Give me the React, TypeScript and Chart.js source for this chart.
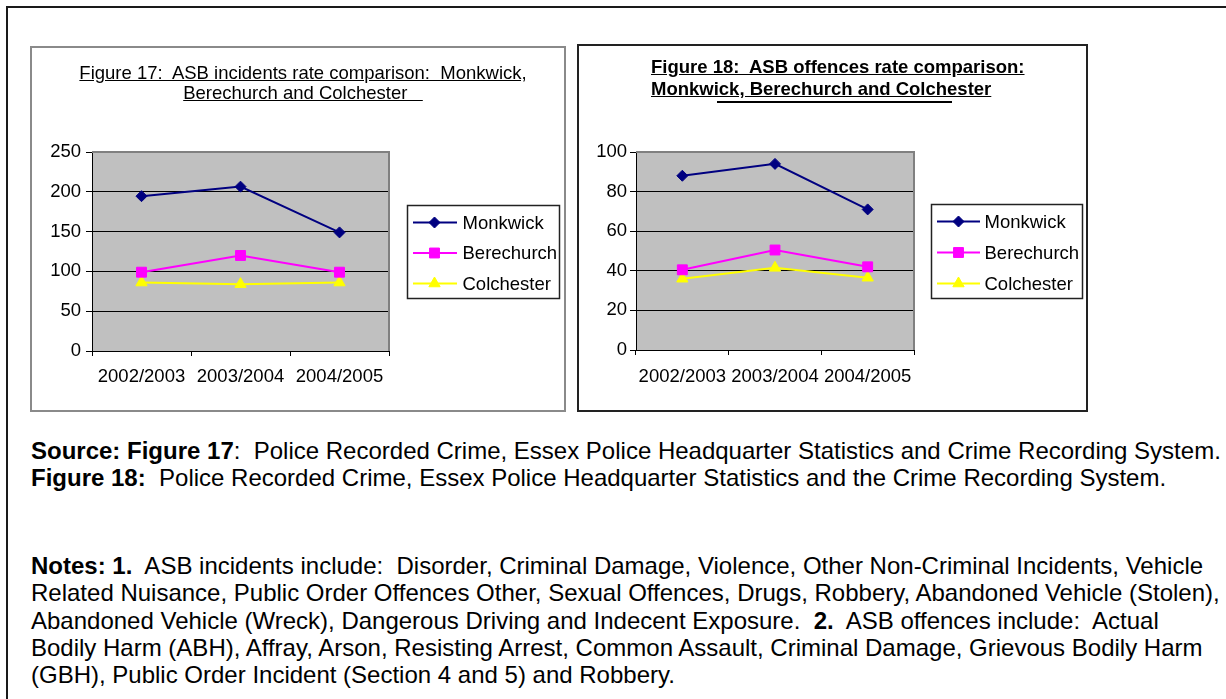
import React, { useEffect, useRef } from 'react';
import { Chart, registerables } from 'chart.js';

Chart.register(...registerables);

// ---------- data ----------
const categories = ['2002/2003', '2003/2004', '2004/2005'];
const seriesNames = ['Monkwick', 'Berechurch', 'Colchester'];

const fig17Monkwick = [194.5, 206.5, 149];
const fig17Berechurch = [99, 120, 99];
const fig17Colchester = [86, 84, 86];
const fig17YTicks = [0, 50, 100, 150, 200, 250];

const fig18Monkwick = [88, 94, 71];
const fig18Berechurch = [40.5, 50.5, 42];
const fig18Colchester = [36, 41.5, 36.5];
const fig18YTicks = [0, 20, 40, 60, 80, 100];

const fig17Title = ['Figure 17:  ASB incidents rate comparison:  Monkwick,', 'Berechurch and Colchester   '];
const fig18Title = ['Figure 18:  ASB offences rate comparison:', 'Monkwick, Berechurch and Colchester'];

// ---------- styles ----------
const FONT = "'Liberation Sans', Arial, Helvetica, sans-serif";
const seriesColors = ['#000080', '#FF00FF', '#FFFF00'];
const seriesMarkers = ['rectRot', 'rect', 'triangle'];
const seriesRadii = [5.5, 7, 6.5];

type Geo = {
  left: number; top: number; width: number; height: number;
  yWidth: number; padTop: number; padRight: number; padBottom: number;
  xPad: number; yPad: number;
  legGap: number; legW: number; legH: number; lineStart: number; lineEnd: number; markX: number; textX: number;
};

function drawMarker(ctx: CanvasRenderingContext2D, style: string, x: number, y: number, r: number, color: string) {
  ctx.beginPath();
  if (style === 'rectRot') {
    ctx.moveTo(x - r, y); ctx.lineTo(x, y - r); ctx.lineTo(x + r, y); ctx.lineTo(x, y + r);
  } else if (style === 'rect') {
    const s = r * Math.SQRT1_2;
    ctx.rect(x - s, y - s, 2 * s, 2 * s);
  } else {
    ctx.moveTo(x, y - r); ctx.lineTo(x + r * 0.866, y + r * 0.5); ctx.lineTo(x - r * 0.866, y + r * 0.5);
  }
  ctx.closePath();
  ctx.fillStyle = color; ctx.fill();
  ctx.lineWidth = 1; ctx.strokeStyle = color; ctx.stroke();
}

function makeConfig(series: number[][], yTicks: number[], g: Geo): any {
  const max = yTicks[yTicks.length - 1];
  const plotBg = {
    id: 'plotBg',
    beforeDraw(chart: any) {
      const { ctx, chartArea: a } = chart;
      ctx.save();
      ctx.fillStyle = '#C0C0C0';
      ctx.fillRect(a.left, a.top, a.right - a.left, a.bottom - a.top);
      ctx.restore();
    },
    beforeDatasetsDraw(chart: any) {
      const { ctx, chartArea: a } = chart;
      ctx.save();
      ctx.strokeStyle = '#808080';
      ctx.lineWidth = 2;
      ctx.beginPath();
      ctx.moveTo(a.left, a.top);
      ctx.lineTo(a.right, a.top);
      ctx.lineTo(a.right, a.bottom);
      ctx.stroke();
      ctx.restore();
    },
  };
  const boxLegend = {
    id: 'boxLegend',
    afterDraw(chart: any) {
      const { ctx, chartArea: a } = chart;
      const bx = Math.round(a.right + g.legGap);
      const by = Math.round((a.top + a.bottom) / 2 - g.legH / 2);
      ctx.save();
      ctx.fillStyle = '#FFFFFF';
      ctx.fillRect(bx, by, g.legW, g.legH);
      ctx.strokeStyle = '#222';
      ctx.lineWidth = 1.5;
      ctx.strokeRect(bx + 0.5, by + 0.5, g.legW, g.legH);
      const rowH = (g.legH - 32) / 2;
      chart.data.datasets.forEach((ds: any, i: number) => {
        const y = by + 17.5 + i * rowH;
        ctx.strokeStyle = ds.borderColor;
        ctx.lineWidth = 2;
        ctx.beginPath();
        ctx.moveTo(bx + g.lineStart, y);
        ctx.lineTo(bx + g.lineEnd, y);
        ctx.stroke();
        drawMarker(ctx, ds.pointStyle, bx + g.markX, y, ds.pointRadius, ds.borderColor);
        ctx.fillStyle = '#000';
        ctx.font = `18.5px ${FONT}`;
        ctx.textBaseline = 'middle';
        ctx.textAlign = 'left';
        ctx.fillText(ds.label, bx + g.textX, y + 1);
      });
      ctx.restore();
    },
  };
  return {
    type: 'line',
    data: {
      labels: categories,
      datasets: seriesNames.map((name, i) => ({
        label: name,
        data: series[i],
        borderColor: seriesColors[i],
        backgroundColor: seriesColors[i],
        borderWidth: 2,
        pointStyle: seriesMarkers[i],
        pointRadius: seriesRadii[i],
        pointBorderWidth: 1,
        pointBackgroundColor: seriesColors[i],
        pointBorderColor: seriesColors[i],
        tension: 0,
        fill: false,
      })),
    },
    options: {
      animation: false,
      responsive: false,
      devicePixelRatio: 1,
      events: [],
      layout: { padding: { top: g.padTop, right: g.padRight, bottom: g.padBottom, left: 0 } },
      plugins: { legend: { display: false }, title: { display: false }, tooltip: { enabled: false } },
      scales: {
        x: {
          offset: true,
          grid: { offset: true, drawOnChartArea: false, drawTicks: true, tickLength: 5, color: '#000', lineWidth: 1 },
          border: { color: '#000', width: 1 },
          ticks: { color: '#000', font: { family: FONT, size: 18.5 }, padding: g.xPad, maxRotation: 0, minRotation: 0, autoSkip: false },
          afterFit: (s: any) => { s.height = 40; },
        },
        y: {
          min: yTicks[0],
          max,
          ticks: { stepSize: yTicks[1] - yTicks[0], color: '#000', font: { family: FONT, size: 18.5 }, padding: g.yPad },
          grid: {
            color: (c: any) => (c.tick && c.tick.value === max ? 'rgba(0,0,0,0)' : '#000'),
            tickColor: '#000',
            tickLength: 6,
            lineWidth: 1,
          },
          border: { color: '#000', width: 1 },
          afterFit: (s: any) => { s.width = g.yWidth; },
        },
      },
    },
    plugins: [plotBg, boxLegend],
  };
}

function ChartCanvas({ series, yTicks, g }: { series: number[][]; yTicks: number[]; g: Geo }) {
  const ref = useRef<HTMLCanvasElement | null>(null);
  useEffect(() => {
    if (!ref.current) return;
    const chart = new Chart(ref.current, makeConfig(series, yTicks, g));
    return () => chart.destroy();
  }, []);
  return (
    <canvas
      ref={ref}
      width={g.width}
      height={g.height}
      style={{ position: 'absolute', left: g.left, top: g.top, width: g.width, height: g.height }}
    />
  );
}

const geo17: Geo = {
  left: 30, top: 46, width: 536, height: 366,
  yWidth: 62, padTop: 106, padRight: 177, padBottom: 21, xPad: 10, yPad: 5,
  legGap: 18, legW: 152, legH: 93, lineStart: 6, lineEnd: 50, markX: 27.5, textX: 55.5,
};
const geo18: Geo = {
  left: 577, top: 44, width: 511, height: 368,
  yWidth: 59, padTop: 108, padRight: 174, padBottom: 22, xPad: 11, yPad: 3,
  legGap: 17, legW: 151, legH: 94, lineStart: 6, lineEnd: 49, markX: 27.5, textX: 53.5,
};

const abs = (o: React.CSSProperties): React.CSSProperties => ({ position: 'absolute', ...o });

export default function App() {
  return (
    <div style={{ position: 'fixed', left: 0, top: 0, width: 1226, height: 699, overflow: 'hidden', background: '#fff', fontFamily: FONT, color: '#000' }}>
      <div style={abs({ left: 6, top: 6, width: 1400, height: 900, borderTop: '2px solid #1a1a1a', borderLeft: '2px solid #1a1a1a' })} />

      {/* Figure 17 */}
      <div style={abs({ left: 30, top: 46, width: 536, height: 366, boxSizing: 'border-box', border: '2px solid #8a8a8a' })} />
      <ChartCanvas series={[fig17Monkwick, fig17Berechurch, fig17Colchester]} yTicks={fig17YTicks} g={geo17} />
      <div style={abs({ left: 35, top: 63, width: 536, textAlign: 'center', fontSize: 18.5, lineHeight: '20.4px', textDecoration: 'underline', whiteSpace: 'pre' })}>
        {fig17Title[0]}
        <br />
        {fig17Title[1]}
      </div>

      {/* Figure 18 */}
      <div style={abs({ left: 577, top: 44, width: 511, height: 368, boxSizing: 'border-box', border: '2px solid #222' })} />
      <ChartCanvas series={[fig18Monkwick, fig18Berechurch, fig18Colchester]} yTicks={fig18YTicks} g={geo18} />
      <div style={abs({ left: 651, top: 56, fontSize: 18.5, fontWeight: 'bold', lineHeight: '22.3px', textDecoration: 'underline', whiteSpace: 'pre' })}>
        {fig18Title[0]}
        <br />
        {fig18Title[1]}
      </div>
      <div style={abs({ left: 717, top: 101, width: 235, height: 2, background: '#000' })} />

      {/* Source */}
      <div style={abs({ left: 31, top: 436.5, fontSize: 24, lineHeight: '27.3px', whiteSpace: 'pre' })}>
        <b>Source: Figure 17</b>{':  Police Recorded Crime, Essex Police Headquarter Statistics and Crime Recording System.'}
        <br />
        <b>Figure 18:</b>{'  Police Recorded Crime, Essex Police Headquarter Statistics and the Crime Recording System.'}
      </div>

      {/* Notes */}
      <div style={abs({ left: 31, top: 552, fontSize: 24, lineHeight: '27.3px', whiteSpace: 'pre' })}>
        <b>Notes: 1.</b>{'  ASB incidents include:  Disorder, Criminal Damage, Violence, Other Non-Criminal Incidents, Vehicle'}
        <br />
        {'Related Nuisance, Public Order Offences Other, Sexual Offences, Drugs, Robbery, Abandoned Vehicle (Stolen),'}
        <br />
        {'Abandoned Vehicle (Wreck), Dangerous Driving and Indecent Exposure.  '}<b>2.</b>{'  ASB offences include:  Actual'}
        <br />
        {'Bodily Harm (ABH), Affray, Arson, Resisting Arrest, Common Assault, Criminal Damage, Grievous Bodily Harm'}
        <br />
        {'(GBH), Public Order Incident (Section 4 and 5) and Robbery.'}
      </div>
    </div>
  );
}
